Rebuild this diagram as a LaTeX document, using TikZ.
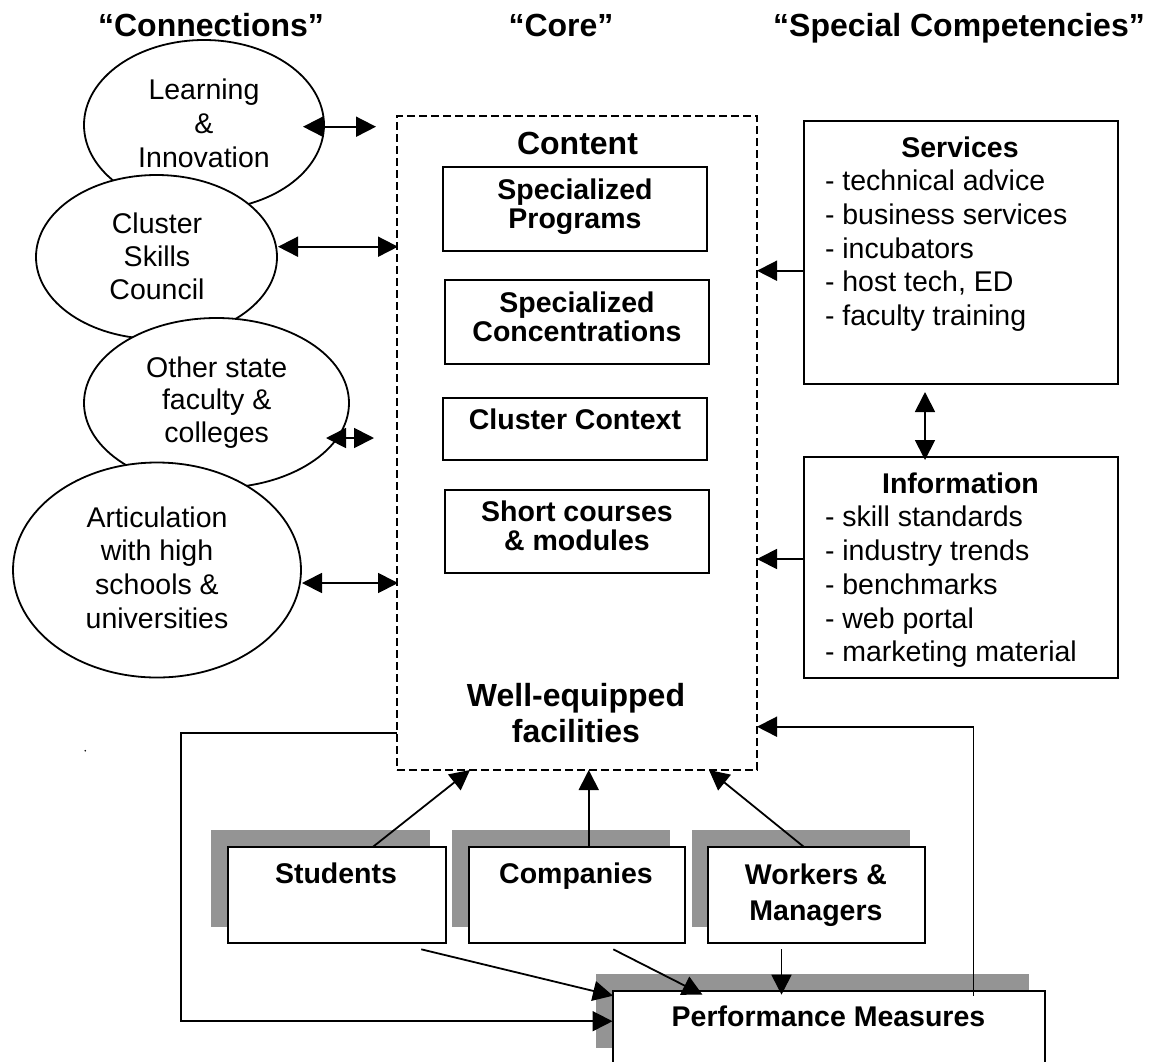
\documentclass[tikz,border=0pt]{standalone}
\usepackage{fontspec}
\setmainfont{Liberation Sans}
\usetikzlibrary{arrows.meta,shapes.geometric}
\newcommand\fbody{\fontsize{28.5}{33.8}\selectfont}
\newcommand\fbold{\fontsize{28.5}{29}\selectfont\bfseries}
\newcommand\fbig{\fontsize{32}{35.7}\selectfont\bfseries}
\begin{document}
\begin{tikzpicture}[x=1pt,y=-1pt,
  every node/.style={inner sep=0pt, outer sep=0pt},
  oval/.style={ellipse, draw, fill=white, line width=1.8pt},
  box/.style={rectangle, draw, fill=white, line width=2pt},
  shadebox/.style={rectangle, fill=black!42},
  corebox/.style={rectangle, draw, line width=1.8pt, dash pattern=on 8pt off 4pt},
  arr/.style={line width=1.8pt, -{Triangle[length=20pt,width=20pt]}},
  darr/.style={line width=1.8pt, {Triangle[length=20pt,width=20pt]}-{Triangle[length=20pt,width=20pt]}},
]
\useasboundingbox (0,0) rectangle (1151,1061);
\clip (0,0) rectangle (1151,1061);

% headers
\node[font=\fbig, anchor=base] (h1) at (211,36) {“Connections”};
\node[font=\fbig, anchor=base] (h2) at (561,36) {“Core”};
\node[font=\fbig, anchor=base] (h3) at (959,36) {“Special Competencies”};

% connections (ellipses)
\node[oval, minimum width=240pt, minimum height=170pt] (e1) at (204,125) {};
\node[oval, minimum width=241pt, minimum height=164pt] (e2) at (156.5,257) {};
\node[oval, minimum width=265pt, minimum height=170pt] (e3) at (216.5,403) {};
\node[oval, minimum width=288pt, minimum height=215pt] (e4) at (157,570) {};
\node[font={\fontsize{28.5}{34}\selectfont}, align=center, anchor=north] (t1) at (204,78.6) {Learning\\\&\\Innovation};
\node[font={\fontsize{28.5}{33}\selectfont}, align=center, anchor=north] (t2) at (157,212.6) {Cluster\\Skills\\Council};
\node[font={\fontsize{28.5}{32.5}\selectfont}, align=center, anchor=north] (t3) at (216.7,356.6) {Other state\\faculty \&\\colleges};
\node[font={\fontsize{28.5}{33.7}\selectfont}, align=center, anchor=north] (t4) at (157,506.6) {Articulation\\with high\\schools \&\\universities};

% core
\node[corebox, minimum width=360pt, minimum height=654pt] (core) at (577,443) {};
\node[font=\fbig, anchor=base] (content) at (577.5,154) {Content};
\node[box, minimum width=264pt, minimum height=84pt] (sp) at (575,209) {};
\node[box, minimum width=264pt, minimum height=84pt] (sc) at (577,322) {};
\node[box, minimum width=264pt, minimum height=62pt] (cc) at (575,429) {};
\node[box, minimum width=264pt, minimum height=83pt] (scm) at (577,531.5) {};
\node[font=\fbold, align=center, anchor=north] (tsp) at (575,178.6) {Specialized\\Programs};
\node[font=\fbold, align=center, anchor=north] (tsc) at (577,291.9) {Specialized\\Concentrations};
\node[font=\fbold, anchor=base] (tcc) at (575,429.3) {Cluster Context};
\node[font=\fbold, align=center, anchor=north] (tscm) at (577,501.3) {Short courses\\\& modules};
\node[font=\fbig, align=center, anchor=north] (twef) at (576,683.1) {Well-equipped\\facilities};

% special competencies
\node[box, minimum width=314pt, minimum height=263pt] (serv) at (961,252.5) {};
\node[box, minimum width=314pt, minimum height=221pt] (info) at (961,567.5) {};
\node[font=\fbold, anchor=base] (tserv) at (960,157.3) {Services};
\node[font={\fontsize{28.5}{33.9}\selectfont}, align=left, anchor=north west] (lserv) at (825,169.6)
  {- technical advice\\- business services\\- incubators\\- host tech, ED\\- faculty training};
\node[font=\fbold, anchor=base] (tinfo) at (960.5,493.3) {Information};
\node[font={\fontsize{28.5}{33.75}\selectfont}, align=left, anchor=north west] (linfo) at (825,506.3)
  {- skill standards\\- industry trends\\- benchmarks\\- web portal\\- marketing material};

% bottom boxes with shadows
\node[shadebox, minimum width=219pt, minimum height=97pt] (studsh) at (320.5,878.5) {};
\node[shadebox, minimum width=218pt, minimum height=97pt] (compsh) at (560.5,878.5) {};
\node[shadebox, minimum width=218pt, minimum height=97pt] (worksh) at (800.5,878.5) {};
\node[shadebox, minimum width=433pt, minimum height=74pt] (perfsh) at (812.3,1011.2) {};
\node[box, minimum width=217.5pt, minimum height=96pt] (stud) at (336.75,895) {};
\node[box, minimum width=216.5pt, minimum height=96pt] (comp) at (576.75,895) {};
\node[box, minimum width=217pt, minimum height=96pt] (work) at (816.5,895) {};
\node[box, minimum width=432pt, minimum height=74pt] (perf) at (828.5,1027.7) {};
\node[font=\fbold, anchor=base] (tstud) at (336,883.3) {Students};
\node[font=\fbold, anchor=base] (tcomp) at (576,883.3) {Companies};
\node[font={\fontsize{28.5}{36}\selectfont\bfseries}, align=center, anchor=north] (twork) at (816,863.6) {Workers \&\\Managers};
\node[font=\fbold, anchor=base] (tperf) at (828.5,1026.7) {Performance Measures};

% stray dot
\fill (85.3,750.7) circle (0.9pt);

% connection arrows
\draw[darr] ([xshift=-21pt,yshift=-1.7pt]e1.east) -- ([xshift=-21pt,yshift=-1.7pt]e1.east -| core.west);
\draw[darr] ([shift={(1pt,10.3pt)}]e2.east) -- ([shift={(1pt,10.3pt)}]e2.east -| core.west);
\draw[darr] ([shift={(-23pt,-35pt)}]e3.east) -- ([shift={(-23pt,-35pt)}]e3.east -| core.west);
\draw[darr] ([shift={(1pt,-13pt)}]e4.east) -- ([shift={(1pt,-13pt)}]e4.east -| core.west);

% special competencies arrows
\draw[arr] ([yshift=-18.2pt]serv.west) -- ([yshift=-18.2pt]serv.west -| core.east);
\draw[arr] ([yshift=8.5pt]info.west) -- ([yshift=8.5pt]info.west -| core.east);
\draw[darr] ([shift={(-36pt,-8pt)}]serv.south) -- ([shift={(-36pt,-3pt)}]info.north);

% bottom arrows into core
\draw[arr] ([xshift=36pt]stud.north) -- ([xshift=-107pt]core.south);
\draw[arr] ([xshift=12pt]comp.north) -- ([xshift=12pt]comp.north |- core.south);
\draw[arr] ([xshift=-12.5pt]work.north) -- ([xshift=132pt]core.south);

% arrows into performance measures
\draw[arr] ([shift={(84.5pt,-6.3pt)}]stud.south) -- ([shift={(0.5pt,-5pt)}]perf.north west);
\draw[arr] ([shift={(36.5pt,-6.3pt)}]comp.south) -- ([shift={(90pt,-4pt)}]perf.north west);
\draw[arr] ([shift={(-35pt,-6.3pt)}]work.south) -- ([shift={(-35pt,-4pt)}]work.south |- perf.north);

% feedback loops
\draw[arr] ([yshift=-289.7pt]core.west) -- ++(-216,0) |- ([yshift=6.5pt]perf.west);
\draw[arr] ([shift={(145pt,-5pt)}]perf.north) |- ([yshift=-283.7pt]core.east);
\end{tikzpicture}
\end{document}
